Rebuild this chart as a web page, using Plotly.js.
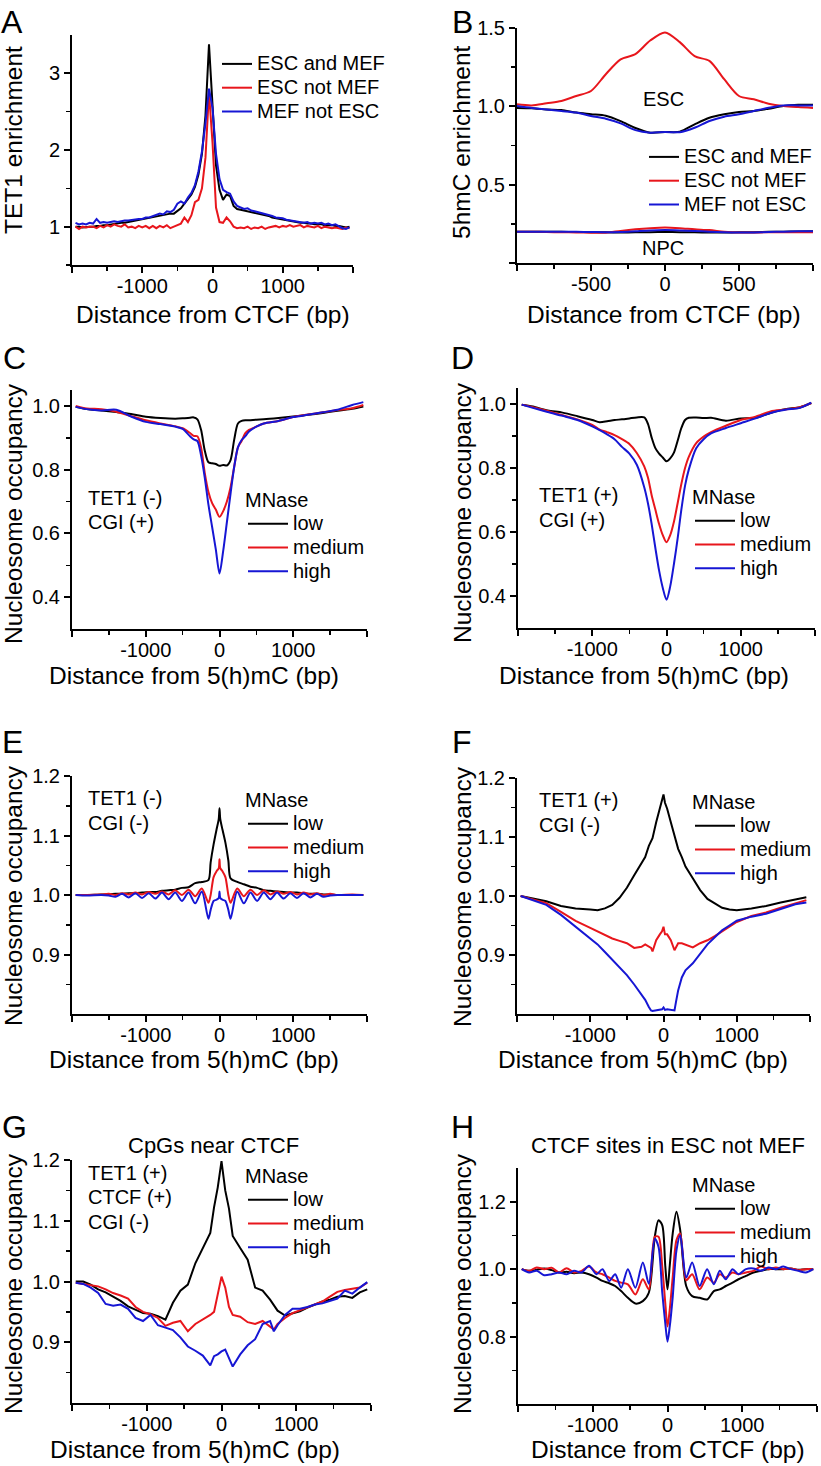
<!DOCTYPE html>
<html><head><meta charset="utf-8">
<script src="https://cdn.plot.ly/plotly-3.0.1.min.js"></script>
<style>html,body{margin:0;padding:0;background:#fff}#chart{width:821px;height:1466px}</style>
</head><body><div id="chart"></div>
<script>
// ---------------- DATA ----------------
// Panel A: TET1 enrichment around CTCF sites
const xA = [-1950,-1900,-1850,-1800,-1750,-1700,-1650,-1600,-1550,-1500,
  -1450,-1400,-1350,-1300,-1250,-1200,-1150,-1100,-1050,-1000,
  -950,-900,-850,-800,-750,-700,-650,-600,-550,-500,
  -450,-400,-350,-300,-250,-200,-150,-100,-50,0,
  50,100,150,200,250,300,350,400,450,500,
  550,600,650,700,750,800,850,900,950,1000,
  1050,1100,1150,1200,1250,1300,1350,1400,1450,1500,
  1550,1600,1650,1700,1750,1800,1850,1900,1950];
const aEscAndMef = [1.00,1.00,0.99,1.00,1.00,1.00,1.01,1.01,1.02,1.02,
  1.03,1.03,1.04,1.05,1.05,1.06,1.07,1.08,1.08,1.09,
  1.10,1.11,1.12,1.13,1.14,1.15,1.16,1.17,1.17,1.20,
  1.24,1.30,1.36,1.42,1.52,1.68,1.95,2.45,3.38,2.62,
  1.80,1.48,1.35,1.42,1.40,1.27,1.23,1.22,1.21,1.20,
  1.19,1.18,1.17,1.16,1.15,1.14,1.12,1.11,1.10,1.09,
  1.08,1.07,1.07,1.06,1.05,1.05,1.04,1.04,1.03,1.03,
  1.03,1.02,1.02,1.02,1.01,1.01,1.00,0.99,1.00];
const aEscNotMef = [1.00,0.97,1.00,0.99,1.00,1.00,0.98,1.01,0.99,1.02,
  1.00,1.03,1.01,1.00,1.03,0.99,1.00,0.98,1.01,0.99,
  1.01,0.98,1.01,0.98,1.01,0.99,1.02,0.98,1.00,1.02,
  1.04,1.12,1.06,1.15,1.32,1.35,1.50,1.90,2.75,2.10,
  1.25,1.06,1.05,1.12,1.07,1.00,0.98,0.99,0.98,1.00,
  0.97,0.99,0.98,1.00,0.97,0.99,1.00,1.01,0.99,1.01,
  1.00,1.02,1.00,1.01,1.02,0.99,1.01,1.00,0.99,1.01,
  0.98,1.00,0.99,0.98,0.99,0.98,0.97,0.99,0.98];
const aMefNotEsc = [1.05,1.03,1.04,1.03,1.05,1.04,1.10,1.05,1.06,1.05,
  1.06,1.07,1.06,1.07,1.08,1.08,1.09,1.09,1.10,1.10,
  1.12,1.12,1.14,1.15,1.17,1.16,1.20,1.19,1.22,1.30,
  1.33,1.30,1.38,1.44,1.54,1.72,1.98,2.35,2.80,2.55,
  1.95,1.62,1.48,1.45,1.43,1.33,1.27,1.25,1.23,1.24,
  1.21,1.20,1.19,1.17,1.16,1.15,1.14,1.12,1.11,1.11,
  1.09,1.08,1.07,1.07,1.06,1.05,1.06,1.04,1.05,1.04,
  1.05,1.03,1.04,1.02,1.03,1.00,0.98,0.97,0.99];

// Panel B: 5hmC enrichment around CTCF sites (ESC and NPC)
const xB = [-1000,-900,-800,-700,-600,-500,-400,-300,-200,-100,0,100,200,300,400,500,600,700,800,900,1000];
const bEscAndMef = [0.990,0.988,0.980,0.976,0.960,0.950,0.940,0.906,0.862,0.832,0.836,0.838,0.885,0.927,0.949,0.964,0.970,0.985,1.002,1.010,1.010];
const bEscNotMef = [1.013,1.006,1.020,1.034,1.066,1.098,1.205,1.300,1.333,1.420,1.472,1.410,1.320,1.290,1.173,1.066,1.045,1.017,1.002,0.995,0.990];
const bMefNotEsc = [1.002,0.990,0.980,0.970,0.960,0.938,0.921,0.891,0.848,0.832,0.836,0.835,0.863,0.906,0.934,0.949,0.970,0.991,1.006,1.006,1.006];
const bNpcEscAndMef = [0.200,0.200,0.200,0.199,0.198,0.197,0.196,0.195,0.196,0.197,0.198,0.197,0.196,0.195,0.195,0.196,0.197,0.199,0.200,0.201,0.202];
const bNpcEscNotMef = [0.200,0.200,0.198,0.196,0.195,0.193,0.193,0.205,0.215,0.222,0.226,0.222,0.215,0.210,0.200,0.195,0.195,0.196,0.197,0.197,0.197];
const bNpcMefNotEsc = [0.200,0.200,0.200,0.200,0.199,0.198,0.196,0.198,0.203,0.208,0.210,0.208,0.204,0.200,0.196,0.194,0.195,0.198,0.200,0.202,0.203];

// Panel C: TET1(-) CGI(+)
const xC = [-1950,-1800,-1600,-1400,-1200,-1000,-800,-600,-500,-400,-350,-300,-250,-200,-150,-100,-50,0,50,100,150,200,250,300,350,400,500,600,800,1000,1200,1400,1600,1800,1950];
const cLow = [0.997,0.990,0.986,0.981,0.975, 0.966,0.962,0.960,0.961,0.963, 0.964,0.958,0.925,0.860,0.823, 0.820,0.818,0.812,0.815,0.813, 0.830,0.895,0.945,0.953,0.955, 0.955,0.957,0.958,0.962,0.967, 0.972,0.978,0.985,0.991,0.998];
const cMedium = [1.000,0.992,0.990,0.982,0.968, 0.955,0.945,0.936,0.930,0.915, 0.906,0.905,0.870,0.790,0.730, 0.695,0.675,0.652,0.670,0.700, 0.745,0.810,0.870,0.890,0.915, 0.925,0.935,0.945,0.953,0.965, 0.973,0.980,0.987,0.993,1.003];
const cHigh = [0.997,0.990,0.986,0.988,0.967, 0.950,0.943,0.935,0.928,0.905, 0.895,0.890,0.845,0.775,0.690, 0.620,0.550,0.474,0.545,0.635, 0.725,0.810,0.870,0.893,0.905, 0.920,0.935,0.945,0.953,0.965, 0.972,0.980,0.988,1.003,1.012];

// Panel D: TET1(+) CGI(+)
const xD = [-1950,-1800,-1600,-1400,-1200,-1000,-900,-800,-700,-600,-500,-400,-300,-250,-200,-150,-100,-50,0,50,100,150,200,250,300,400,500,600,800,1000,1200,1400,1600,1800,1950];
const dLow = [0.998,0.992,0.980,0.973,0.962, 0.950,0.943,0.946,0.950,0.952, 0.955,0.958,0.958,0.938,0.895, 0.862,0.845,0.833,0.821,0.830, 0.848,0.885,0.925,0.950,0.957, 0.958,0.956,0.957,0.948,0.955, 0.957,0.972,0.984,0.990,1.003];
const dMedium = [0.998,0.990,0.978,0.965,0.952, 0.935,0.920,0.912,0.903,0.890, 0.875,0.847,0.805,0.770,0.715, 0.670,0.625,0.590,0.568,0.590, 0.632,0.690,0.750,0.800,0.835, 0.878,0.898,0.912,0.932,0.950, 0.960,0.977,0.983,0.990,1.003];
const dHigh = [0.998,0.988,0.975,0.963,0.950, 0.930,0.918,0.905,0.890,0.866, 0.845,0.810,0.740,0.690,0.625, 0.550,0.480,0.425,0.388,0.430, 0.500,0.580,0.670,0.745,0.795, 0.862,0.890,0.908,0.925,0.940, 0.955,0.972,0.982,0.988,1.004];

// Panel E: TET1(-) CGI(-)
const xE = [-1950,-1800,-1600,-1500,-1410,-1320,-1230,-1140,-1050,-960,-870,-780,-690,-600,-510,-420,-330,-240,-150,-120,-80,-40,-10,0,10,40,80,120,150,240,330,420,510,600,690,780,870,960,1050,1140,1230,1320,1410,1500,1600,1800,1950];
const eLow = [1.000,1.000,1.001,1.001,1.002, 1.002,1.003,1.003,1.004,1.005, 1.005,1.007,1.008,1.009,1.012, 1.013,1.020,1.022,1.025,1.055, 1.085,1.110,1.128,1.146,1.128, 1.110,1.088,1.058,1.028,1.022, 1.018,1.014,1.012,1.008,1.007, 1.006,1.005,1.004,1.004,1.003, 1.002,1.002,1.001,1.001,1.000, 1.000,1.000];
const eMedium = [1.000,1.000,1.001,1.002,1.000, 1.003,1.001,1.004,1.001,1.005, 1.002,1.006,1.001,1.008,1.000, 1.009,0.998,1.011,0.987,1.000, 1.030,1.040,1.045,1.060,1.045, 1.040,1.030,1.000,0.987,1.011, 0.998,1.009,1.000,1.008,1.001, 1.006,1.002,1.005,1.001,1.004, 1.001,1.003,1.000,1.002,1.000, 1.001,1.000];
const eHigh = [1.000,0.999,1.000,0.999,0.997, 1.002,0.996,1.003,0.995,1.003, 0.994,1.004,0.993,1.004,0.990, 1.004,0.986,1.006,0.960,0.975, 0.990,0.992,0.995,1.006,0.995, 0.992,0.990,0.975,0.960,1.006, 0.986,1.004,0.990,1.004,0.993, 1.004,0.994,1.003,0.995,1.003, 0.996,1.002,0.997,0.999,1.000, 1.000,1.000];

// Panel F: TET1(+) CGI(-)
const xF = [-1950,-1800,-1600,-1400,-1200,-1000,-900,-800,-700,-600,-500,-400,-300,-250,-200,-170,-150,-100,-50,-20,0,20,50,100,150,170,200,250,300,400,500,600,700,800,900,1000,1200,1400,1600,1800,1950];
const fLow = [1.000,0.996,0.991,0.983,0.979, 0.977,0.976,0.979,0.985,0.997, 1.014,1.035,1.055,1.066,1.085, 1.092,1.098,1.125,1.148,1.158, 1.172,1.158,1.148,1.125,1.100, 1.095,1.080,1.066,1.050,1.030, 1.010,0.995,0.987,0.980,0.977, 0.976,0.979,0.983,0.989,0.994, 0.998];
const fMedium = [1.000,0.995,0.988,0.973,0.958, 0.946,0.940,0.935,0.928,0.924, 0.920,0.912,0.914,0.918,0.915, 0.912,0.906,0.925,0.935,0.940, 0.948,0.935,0.935,0.925,0.908, 0.912,0.920,0.920,0.918,0.913, 0.920,0.925,0.932,0.940,0.948, 0.956,0.966,0.972,0.980,0.988, 0.993];
const fHigh = [1.000,0.993,0.985,0.968,0.948, 0.928,0.918,0.905,0.892,0.880, 0.866,0.850,0.832,0.824,0.812, 0.806,0.805,0.806,0.807,0.808, 0.811,0.807,0.808,0.807,0.806, 0.820,0.840,0.862,0.874,0.886, 0.902,0.918,0.930,0.942,0.950, 0.958,0.965,0.970,0.978,0.986, 0.989];

// Panel G: CpGs near CTCF, TET1(+) CTCF(+) CGI(-)
const xG = [-1950,-1850,-1750,-1650,-1550,-1450,-1350,-1250,-1150,-1050,-950,-850,-750,-650,-550,-450,-350,-250,-150,-100,-50,0,50,100,150,250,350,450,550,650,700,750,850,950,1050,1150,1250,1350,1450,1550,1650,1750,1850,1950];
const gLow = [1.000,1.000,0.995,0.987,0.982, 0.975,0.968,0.959,0.953,0.948, 0.947,0.943,0.937,0.965,0.985, 0.995,1.030,1.056,1.080,1.122, 1.155,1.198,1.150,1.120,1.075, 1.055,1.036,0.990,0.985,0.970, 0.960,0.952,0.944,0.947,0.951, 0.957,0.962,0.967,0.970,0.975, 0.976,0.973,0.982,0.987];
const gMedium = [0.998,0.996,0.995,0.992,0.987, 0.981,0.977,0.972,0.958,0.950, 0.946,0.940,0.927,0.932,0.935, 0.918,0.930,0.937,0.945,0.950, 0.980,1.008,0.990,0.958,0.945, 0.942,0.933,0.930,0.935,0.925, 0.921,0.930,0.940,0.948,0.953, 0.958,0.963,0.967,0.975,0.983, 0.986,0.988,0.990,0.998];
const gHigh = [0.998,0.996,0.990,0.981,0.963, 0.960,0.962,0.955,0.940,0.935, 0.945,0.928,0.924,0.920,0.908, 0.893,0.886,0.878,0.862,0.877, 0.880,0.885,0.888,0.875,0.860, 0.880,0.895,0.905,0.930,0.935, 0.918,0.928,0.945,0.955,0.955, 0.958,0.962,0.964,0.968,0.972, 0.985,0.980,0.990,0.999];

// Panel H: CTCF sites in ESC not MEF
const xH = [-1950,-1850,-1750,-1650,-1550,-1450,-1350,-1250,-1150,-1050,-950,-870,-780,-700,-620,-530,-430,-330,-250,-170,-120,-70,-30,0,30,70,120,170,250,330,430,530,620,700,780,870,950,1050,1150,1250,1350,1450,1550,1650,1750,1850,1950];
const hLow = [1.000,0.995,0.998,1.002,0.997, 0.990,0.992,0.988,0.990,0.985, 0.975,0.965,0.958,0.950,0.935, 0.915,0.898,0.905,0.930,1.096, 1.145,1.130,1.010,0.940,1.010, 1.106,1.170,1.116,0.950,0.920, 0.915,0.910,0.935,0.940,0.950, 0.960,0.970,0.980,0.990,0.995, 1.000,1.000,1.000,1.002,0.998, 1.000,1.000];
const hMedium = [1.000,0.995,1.005,1.000,1.004, 0.990,1.003,0.990,0.995,1.008, 0.990,0.985,0.975,0.965,0.960, 0.955,0.925,0.970,0.940,1.096, 1.096,1.007,0.900,0.830,0.880, 0.977,1.086,1.106,0.967,0.985, 0.940,0.975,0.960,0.985,0.975, 0.990,0.985,0.990,0.995,1.008, 1.000,1.005,1.000,1.002,0.997, 1.000,1.000];
const hHigh = [1.000,0.990,0.995,0.982,0.985, 0.990,0.985,0.995,0.990,1.010, 0.985,1.000,0.965,0.985,0.945, 1.000,0.945,1.020,0.957,1.090, 1.066,0.930,0.840,0.785,0.830, 0.918,1.056,1.100,0.975,1.020, 0.950,1.000,0.955,0.995,0.970, 1.000,0.985,1.000,1.002,0.995, 1.005,1.000,1.008,1.000,0.995, 0.990,1.000];

// Series names
const groupNames = ['ESC and MEF', 'ESC not MEF', 'MEF not ESC'];
const mnaseNames = ['low', 'medium', 'high'];
const mnaseTitle = 'MNase';

// Tick values / labels
const xTick4k = [-2000,-1000,0,1000,2000];
const xTick4kText = ['', '-1000', '0', '1000', ''];
const xMinor4k = [-1500,-500,500,1500];
const xTick2k = [-1000,-500,0,500,1000];
const xTick2kText = ['', '-500', '0', '500', ''];
const xMinor2k = [-750,-250,250,750];
const yTickA = [1,2,3], yTickAText = ['1','2','3'], yMinorA = [0.5,1.5,2.5];
const yTickB = [0,0.5,1.0,1.5], yTickBText = ['', '0.5','1.0','1.5'], yMinorB = [0.25,0.75,1.25];
const yTickCD = [0.4,0.6,0.8,1.0], yTickCDText = ['0.4','0.6','0.8','1.0'], yMinorCD = [0.5,0.7,0.9];
const yTickEFG = [0.9,1.0,1.1,1.2], yTickEFGText = ['0.9','1.0','1.1','1.2'], yMinorEFG = [0.85,0.95,1.05,1.15];
const yTickH = [0.8,1.0,1.2], yTickHText = ['0.8','1.0','1.2'], yMinorH = [0.7,0.9,1.1];

// ---------------- STYLE / LAYOUT ----------------
const FONT = 'Liberation Sans, Arial, Helvetica, sans-serif';
const COLORS = ['#000000', '#e8161c', '#1616d4'];
const W = 821, H = 1466;
const px = v => v / W;
const py = v => 1 - v / H;
const big = t => '<span style="font-size:20px">' + t + '</span>';

const traces = [];
function addLine(x, y, ci, name, n, show, shape) {
  const s = n === 1 ? '' : String(n);
  traces.push({
    type: 'scatter', mode: 'lines', x: x, y: y, name: big(name),
    xaxis: 'x' + s, yaxis: 'y' + s, legend: 'legend' + s, showlegend: show,
    line: {color: COLORS[ci], width: 2, shape: shape || 'linear', smoothing: 0.8},
    hoverinfo: 'skip'
  });
}

addLine(xA, aEscAndMef, 0, groupNames[0], 1, true);
addLine(xA, aEscNotMef, 1, groupNames[1], 1, true);
addLine(xA, aMefNotEsc, 2, groupNames[2], 1, true);

addLine(xB, bEscAndMef, 0, groupNames[0], 2, true, 'spline');
addLine(xB, bEscNotMef, 1, groupNames[1], 2, true, 'spline');
addLine(xB, bMefNotEsc, 2, groupNames[2], 2, true, 'spline');
addLine(xB, bNpcEscAndMef, 0, groupNames[0] + ' (NPC)', 2, false, 'spline');
addLine(xB, bNpcEscNotMef, 1, groupNames[1] + ' (NPC)', 2, false, 'spline');
addLine(xB, bNpcMefNotEsc, 2, groupNames[2] + ' (NPC)', 2, false, 'spline');

const mn = [
  [xC, [cLow, cMedium, cHigh], 3, 'spline'],
  [xD, [dLow, dMedium, dHigh], 4, 'spline'],
  [xE, [eLow, eMedium, eHigh], 5, 'spline'],
  [xF, [fLow, fMedium, fHigh], 6, 'linear'],
  [xG, [gLow, gMedium, gHigh], 7, 'linear'],
  [xH, [hLow, hMedium, hHigh], 8, 'spline']
];
mn.forEach(([x, ys, n, shape]) => {
  ys.forEach((y, i) => addLine(x, y, i, mnaseNames[i], n, true, shape));
});

// panel boxes in pixels: [left, right, top, bottom]
const boxes = {
  1: [72, 353, 35, 265], 2: [517, 813, 28, 263],
  3: [72, 367, 390, 629], 4: [518, 815, 388, 628],
  5: [72, 367, 776, 1014], 6: [517, 810, 778, 1014],
  7: [72, 371, 1160, 1403], 8: [518, 817, 1168, 1404]
};
const axisSpec = {
  1: {xr: [-2000,2000], xt: xTick4k, xtt: xTick4kText, xm: xMinor4k, yr: [0.5,3.5], yt: yTickA, ytt: yTickAText, ym: yMinorA},
  2: {xr: [-1000,1000], xt: xTick2k, xtt: xTick2kText, xm: xMinor2k, yr: [0,1.5], yt: yTickB, ytt: yTickBText, ym: yMinorB},
  3: {xr: [-2000,2000], xt: xTick4k, xtt: xTick4kText, xm: xMinor4k, yr: [0.3,1.05], yt: yTickCD, ytt: yTickCDText, ym: yMinorCD},
  4: {xr: [-2000,2000], xt: xTick4k, xtt: xTick4kText, xm: xMinor4k, yr: [0.3,1.05], yt: yTickCD, ytt: yTickCDText, ym: yMinorCD},
  5: {xr: [-2000,2000], xt: xTick4k, xtt: xTick4kText, xm: xMinor4k, yr: [0.8,1.2], yt: yTickEFG, ytt: yTickEFGText, ym: yMinorEFG},
  6: {xr: [-2000,2000], xt: xTick4k, xtt: xTick4kText, xm: xMinor4k, yr: [0.8,1.2], yt: yTickEFG, ytt: yTickEFGText, ym: yMinorEFG},
  7: {xr: [-2000,2000], xt: xTick4k, xtt: xTick4kText, xm: xMinor4k, yr: [0.8,1.2], yt: yTickEFG, ytt: yTickEFGText, ym: yMinorEFG},
  8: {xr: [-2000,2000], xt: xTick4k, xtt: xTick4kText, xm: xMinor4k, yr: [0.6,1.3], yt: yTickH, ytt: yTickHText, ym: yMinorH}
};

function axis(domain, range, vals, text, minorVals, anchor, standoff) {
  return {
    domain: domain, range: range, anchor: anchor, fixedrange: true,
    showline: true, linewidth: 2, linecolor: '#000', mirror: false,
    showgrid: false, zeroline: false,
    ticks: 'outside', ticklen: 6, tickwidth: 2, tickcolor: '#000',
    ticklabelstandoff: standoff,
    tickmode: 'array', tickvals: vals, ticktext: text,
    tickfont: {family: FONT, size: 20, color: '#000'},
    minor: {tickmode: 'array', tickvals: minorVals, ticks: 'outside', ticklen: 4, tickwidth: 1.5, tickcolor: '#000', showgrid: false}
  };
}

const layout = {
  width: W, height: H, margin: {l: 0, r: 0, t: 0, b: 0},
  paper_bgcolor: '#fff', plot_bgcolor: 'rgba(0,0,0,0)',
  font: {family: FONT, color: '#000'},
  showlegend: true, annotations: []
};
for (let n = 1; n <= 8; n++) {
  const s = n === 1 ? '' : String(n);
  const b = boxes[n], a = axisSpec[n];
  layout['xaxis' + s] = axis([px(b[0]), px(b[1])], a.xr, a.xt, a.xtt, a.xm, 'y' + s, -4);
  layout['yaxis' + s] = axis([py(b[3]), py(b[2])], a.yr, a.yt, a.ytt, a.ym, 'x' + s, 0);
}

// legends: [left px, top px, has title, item width]
const legendPos = {
  1: [217, 47, false, 30], 2: [644, 140, false, 30],
  3: [243, 486, true, 40], 4: [690, 483, true, 40],
  5: [243, 786, true, 40], 6: [690, 788, true, 40],
  7: [243, 1162, true, 40], 8: [690, 1171, true, 40]
};
for (let n = 1; n <= 8; n++) {
  const s = n === 1 ? '' : String(n);
  const [l, t, hasTitle, iw] = legendPos[n];
  const lg = {
    x: px(l), y: py(t), xref: 'paper', yref: 'paper', xanchor: 'left', yanchor: 'top',
    bgcolor: 'rgba(0,0,0,0)', borderwidth: 0, tracegroupgap: 0, itemwidth: iw,
    font: {family: FONT, size: 16, color: '#000'},
    itemclick: false, itemdoubleclick: false
  };
  if (hasTitle) lg.title = {text: big(mnaseTitle), font: {family: FONT, size: 16, color: '#000'}};
  layout['legend' + s] = lg;
}

function ann(text, x, y, size, opts) {
  layout.annotations.push(Object.assign({
    text: text, x: px(x), y: py(y), xref: 'paper', yref: 'paper',
    xanchor: 'center', yanchor: 'middle', showarrow: false,
    font: {family: FONT, size: size, color: '#000'}
  }, opts || {}));
}

// panel letters
[['A',12,22],['B',462,22],['C',14,358],['D',462,358],['E',13,742],['F',462,742],['G',14,1127],['H',462,1127]]
  .forEach(([t,x,y]) => ann(t, x, y, 32));
// y-axis titles
[['TET1 enrichment',13,140],['5hmC enrichment',462,142],['Nucleosome occupancy',13,514],['Nucleosome occupancy',462,513],
 ['Nucleosome occupancy',13,896],['Nucleosome occupancy',462,897],['Nucleosome occupancy',13,1284],['Nucleosome occupancy',462,1284]]
  .forEach(([t,x,y]) => ann(t, x, y, 24.5, {textangle: -90}));
// x-axis titles
[['Distance from CTCF (bp)',213,314],['Distance from CTCF (bp)',664,314],
 ['Distance from 5(h)mC (bp)',194,675],['Distance from 5(h)mC (bp)',644,675],
 ['Distance from 5(h)mC (bp)',194,1059],['Distance from 5(h)mC (bp)',643,1059],
 ['Distance from 5(h)mC (bp)',195,1449],['Distance from CTCF (bp)',668,1449]]
  .forEach(([t,x,y]) => ann(t, x, y, 24.5));
// panel titles
ann('CpGs near CTCF', 213, 1145, 22);
ann('CTCF sites in ESC not MEF', 668, 1145, 22);
// inner labels
ann('ESC', 663, 99, 20);
ann('NPC', 663, 248, 20);
[['TET1 (-)',86,498],['CGI (+)',86,522],['TET1 (+)',537,495],['CGI (+)',537,520],
 ['TET1 (-)',86,798],['CGI (-)',86,823],['TET1 (+)',537,800],['CGI (-)',537,825],
 ['TET1 (+)',86,1173],['CTCF (+)',86,1197],['CGI (-)',86,1222]]
  .forEach(([t,x,y]) => ann(t, x, y, 20, {xanchor: 'left'}));

Plotly.newPlot('chart', traces, layout, {displayModeBar: false, staticPlot: true});
</script></body></html>
